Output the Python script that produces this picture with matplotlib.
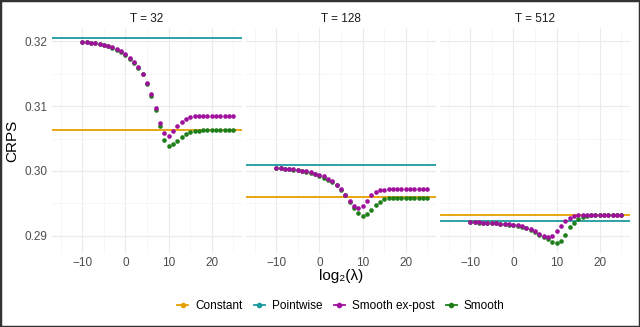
import matplotlib
matplotlib.use("Agg")
import matplotlib.pyplot as plt
from matplotlib.lines import Line2D
from matplotlib.patches import Rectangle
import numpy as np

plt.rcParams['font.family'] = ['Liberation Sans', 'DejaVu Sans']

#--------------------------------------#
# data #

panels = ["T = 32", "T = 128", "T = 512"]
log2_lambda = list(range(-10, 26))

constant = [0.30624, 0.29594, 0.29326]
pointwise = [0.32046, 0.30088, 0.29223]

expost_32 = [0.31985, 0.31985, 0.31980, 0.31970, 0.31964, 0.31949, 0.31933, 0.31907,
             0.31876, 0.31845, 0.31804, 0.31748, 0.31680, 0.31598, 0.31495, 0.31362,
             0.31192, 0.30975, 0.30743, 0.30578, 0.30542, 0.30609, 0.30697, 0.30759,
             0.30799, 0.30825, 0.30841, 0.30846, 0.30851, 0.30851, 0.30851, 0.30851,
             0.30851, 0.30851, 0.30851, 0.30851]
smooth_32 = [0.31984, 0.31983, 0.31977, 0.31966, 0.31957, 0.31940, 0.31922, 0.31895,
             0.31864, 0.31830, 0.31786, 0.31732, 0.31668, 0.31590, 0.31488, 0.31347,
             0.31160, 0.30933, 0.30686, 0.30470, 0.30382, 0.30408, 0.30459, 0.30521,
             0.30573, 0.30598, 0.30614, 0.30619, 0.30624, 0.30624, 0.30624, 0.30624,
             0.30624, 0.30624, 0.30624, 0.30624]

expost_128 = [0.30042, 0.30042, 0.30037, 0.30032, 0.30026, 0.30017, 0.30006, 0.29995,
              0.29980, 0.29960, 0.29939, 0.29918, 0.29883, 0.29847, 0.29790, 0.29723,
              0.29635, 0.29543, 0.29460, 0.29434, 0.29465, 0.29543, 0.29630, 0.29677,
              0.29702, 0.29713, 0.29718, 0.29723, 0.29723, 0.29723, 0.29723, 0.29723,
              0.29723, 0.29723, 0.29723, 0.29723]
smooth_128 = [0.30041, 0.30040, 0.30035, 0.30028, 0.30020, 0.30010, 0.29998, 0.29985,
              0.29968, 0.29948, 0.29925, 0.29898, 0.29868, 0.29832, 0.29780, 0.29712,
              0.29625, 0.29520, 0.29430, 0.29346, 0.29306, 0.29331, 0.29399, 0.29476,
              0.29527, 0.29563, 0.29578, 0.29585, 0.29589, 0.29589, 0.29589, 0.29589,
              0.29589, 0.29589, 0.29589, 0.29589]

expost_512 = [0.29207, 0.29207, 0.29206, 0.29204, 0.29202, 0.29199, 0.29195, 0.29187,
              0.29182, 0.29176, 0.29171, 0.29160, 0.29145, 0.29125, 0.29099, 0.29068,
              0.29028, 0.28997, 0.28975, 0.28997, 0.29068, 0.29156, 0.29223, 0.29269,
              0.29300, 0.29316, 0.29321, 0.29323, 0.29323, 0.29323, 0.29323, 0.29323,
              0.29323, 0.29323, 0.29323, 0.29323]
smooth_512 = [0.29206, 0.29206, 0.29205, 0.29203, 0.29200, 0.29196, 0.29191, 0.29184,
              0.29177, 0.29170, 0.29163, 0.29151, 0.29135, 0.29113, 0.29085, 0.29052,
              0.29012, 0.28975, 0.28950, 0.28904, 0.28893, 0.28924, 0.29006, 0.29130,
              0.29202, 0.29260, 0.29295, 0.29310, 0.29316, 0.29320, 0.29320, 0.29320,
              0.29320, 0.29320, 0.29320, 0.29320]

expost = [expost_32, expost_128, expost_512]
smooth = [smooth_32, smooth_128, smooth_512]

#--------------------------------------#
# style #

c_const = "#E69F00"
c_point = "#1B9AA0"
c_expost = "#A0109C"
c_smooth = "#1E7F1A"
grid_major = "#EBEBEB"
grid_minor = "#F4F4F4"
txt_gray = "#4D4D4D"

W, H = 640, 327
fig = plt.figure(figsize=(W / 100, H / 100), dpi=100)

lefts = [52, 246, 440]
pw = 190
top, bottom = 28, 253

axes = []
for i, name in enumerate(panels):
    ax = fig.add_axes([lefts[i] / W, 1 - bottom / H, pw / W, (bottom - top) / H])
    axes.append(ax)

    ax.set_xlim(-17, 27)
    ax.set_ylim(0.28735, 0.32204)
    ax.set_xticks([-10, 0, 10, 20])
    ax.set_xticks([-15, -5, 5, 15, 25], minor=True)
    ax.set_yticks([0.29, 0.30, 0.31, 0.32])
    ax.set_yticks([0.295, 0.305, 0.315], minor=True)
    ax.grid(which='major', color=grid_major, lw=0.8)
    ax.grid(which='minor', color=grid_minor, lw=0.5)
    ax.set_axisbelow(True)
    for s in ax.spines.values():
        s.set_visible(False)
    ax.tick_params(which='both', length=0, labelsize=8.5, colors=txt_gray, pad=3)
    if i == 0:
        ax.set_yticklabels(["0.29", "0.30", "0.31", "0.32"])
    else:
        ax.tick_params(labelleft=False)
    ax.set_title(name, fontsize=8.5, color="#1A1A1A", pad=4)

    ax.axhline(constant[i], color=c_const, lw=1.3, zorder=2)
    ax.axhline(pointwise[i], color=c_point, lw=1.3, zorder=2)
    ax.scatter(log2_lambda, smooth[i], s=11, color=c_smooth, zorder=3, linewidths=0)
    ax.scatter(log2_lambda, expost[i], s=11, color=c_expost, zorder=4, linewidths=0)

axes[0].set_ylabel("CRPS", fontsize=11, labelpad=4)
fig.text((52 + 630) / 2 / W, 1 - 276 / H, "log₂(λ)", ha='center', va='center', fontsize=11)

handles = [
    Line2D([], [], color=c_const, marker='o', ms=3, lw=1.3),
    Line2D([], [], color=c_point, marker='o', ms=3, lw=1.3),
    Line2D([], [], color=c_expost, marker='o', ms=3, lw=1.3),
    Line2D([], [], color=c_smooth, marker='o', ms=3, lw=1.3),
]
fig.legend(handles, ["Constant", "Pointwise", "Smooth ex-post", "Smooth"],
           loc='center', bbox_to_anchor=(341 / W, 1 - 306 / H), ncol=4,
           frameon=False, fontsize=8.5, handlelength=0.9, handletextpad=0.6,
           columnspacing=1.0)

# dark frame around the whole picture
fig.patches.append(Rectangle((0, 0), 1, 1, transform=fig.transFigure,
                             fill=False, edgecolor="#333333", lw=2.5))

fig.savefig("out.png", dpi=100)
